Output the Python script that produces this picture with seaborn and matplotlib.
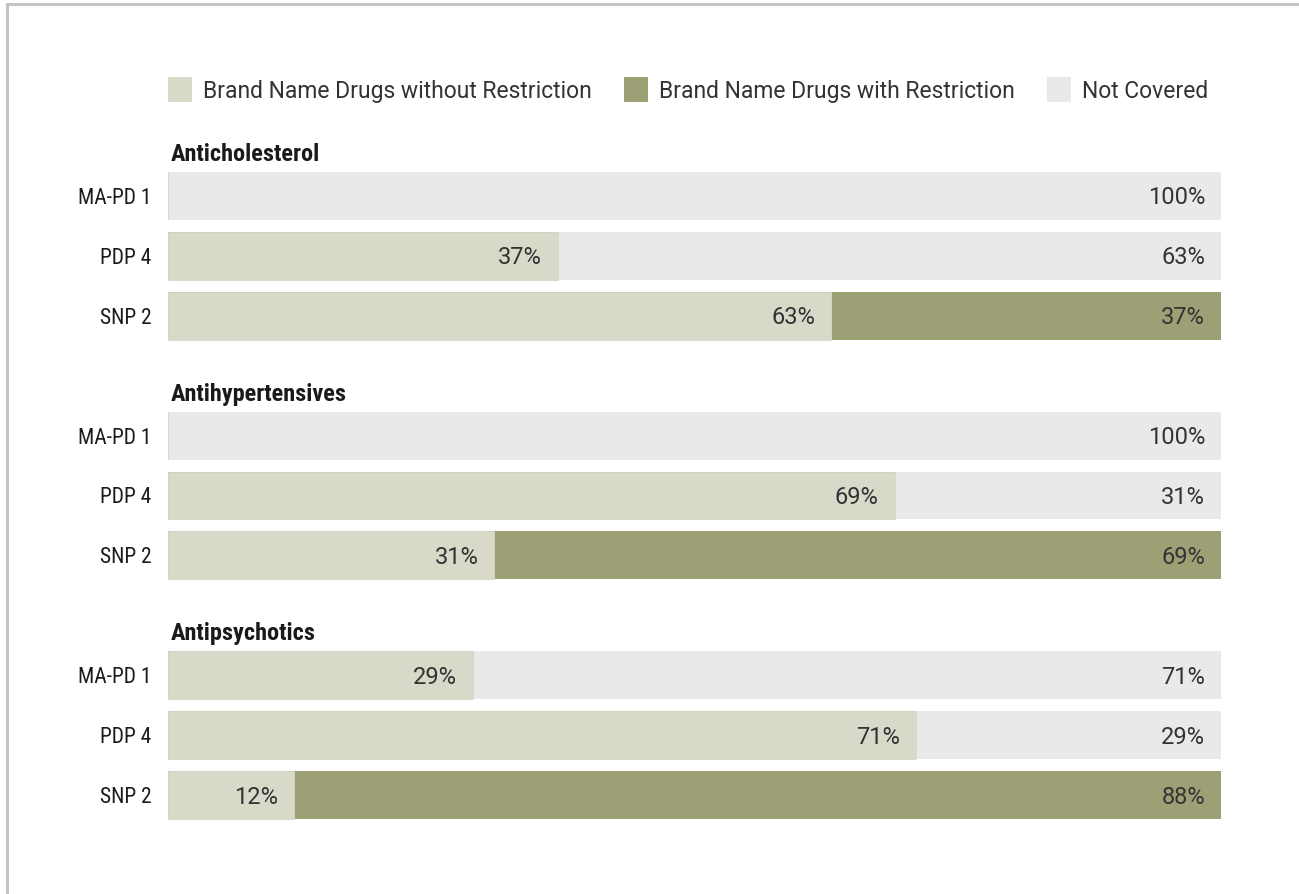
import matplotlib
matplotlib.use("Agg")
import matplotlib.pyplot as plt
from matplotlib.patches import Patch
from matplotlib.lines import Line2D
import seaborn as sns
import pandas as pd
import numpy as np

# ---- data ----
groups = ["Anticholesterol", "Antihypertensives", "Antipsychotics"]
plans = ["MA-PD 1", "PDP 4", "SNP 2"]
series_names = ["Brand Name Drugs without Restriction",
                "Brand Name Drugs with Restriction",
                "Not Covered"]
without_restriction = [0, 37, 63, 0, 69, 31, 29, 71, 12]
with_restriction = [0, 0, 37, 0, 0, 69, 0, 0, 88]
not_covered = [100, 63, 0, 100, 31, 0, 71, 29, 0]

colors = ["#D8D9C9", "#9DA075", "#E9E9E9"]

sns.set_theme(style="white")
plt.rcParams["font.family"] = ["Roboto", "DejaVu Sans"]

# row positions: 3 rows per group, 1 empty slot between groups for titles
positions = []
for g in range(len(groups)):
    for p in range(len(plans)):
        positions.append(g * 4 + p)

df = pd.DataFrame({
    "pos": positions,
    "plan": plans * len(groups),
    "w": without_restriction,
    "r": with_restriction,
    "n": not_covered,
})
df["cum1"] = df["w"]
df["cum2"] = df["w"] + df["r"]
df["cum3"] = df["w"] + df["r"] + df["n"]

W, H = 1299, 894
fig = plt.figure(figsize=(W / 100, H / 100), dpi=100)
ax_left, ax_right = 168 / W, 1221 / W
ax_top_px, ax_bot_px = 136, 825
ax = fig.add_axes([ax_left, (H - ax_bot_px) / H, ax_right - ax_left, (ax_bot_px - ax_top_px) / H])

# overlay stacked bars: draw totals first
sns.barplot(data=df, x="cum3", y="pos", orient="h", native_scale=True,
            color=colors[2], saturation=1, width=0.8, linewidth=0, ax=ax)
sns.barplot(data=df, x="cum2", y="pos", orient="h", native_scale=True,
            color=colors[1], saturation=1, width=0.8, linewidth=0, ax=ax)
sns.barplot(data=df, x="cum1", y="pos", orient="h", native_scale=True,
            color=colors[0], saturation=1, width=0.8, linewidth=0.6,
            edgecolor="#D6D7C6", ax=ax)

ax.set_xlim(0, 100)
ax.set_ylim(10.5, -1.0)

# value labels
txt_kw = dict(ha="right", va="center", fontsize=17, color="#333333",
              textcoords="offset pixels", xytext=(-16, -2))
for _, row in df.iterrows():
    for val, end in [(row["w"], row["cum1"]), (row["r"], row["cum2"]), (row["n"], row["cum3"])]:
        if val > 0:
            ax.annotate(f"{int(val)}%", xy=(end, row["pos"]), **txt_kw)

# group titles
cond = ["Liberation Sans Narrow", "Roboto Condensed", "DejaVu Sans"]
for g, title in enumerate(groups):
    ax.annotate(title, xy=(0, g * 4 - 0.69), xytext=(3, 0), textcoords="offset pixels",
                ha="left", va="center", fontsize=17.5, fontweight="bold",
                color="#1a1a1a", family=cond)

ax.set_yticks(positions)
ax.set_yticklabels(plans * len(groups), family=cond, fontsize=15.5, color="#1a1a1a")
ax.tick_params(axis="y", length=0, pad=12)
ax.set_xticks([])
ax.set_xlabel("")
ax.set_ylabel("")
for s in ax.spines.values():
    s.set_visible(False)

# legend
handles = [Patch(facecolor=c, edgecolor="none") for c in colors]
fig.legend(handles, series_names, loc="center left",
           bbox_to_anchor=(168 / W, 1 - 90 / H), ncol=3, frameon=False,
           fontsize=16.5, handlelength=1.05, handleheight=1.3, handletextpad=0.48,
           columnspacing=1.4, borderaxespad=0, borderpad=0,
           labelcolor="#333333")

# frame lines (top and left)
fig.add_artist(Line2D([7 / W, 1], [1 - 4 / H, 1 - 4 / H], color="#C4C4C4", lw=2.2,
                      transform=fig.transFigure))
fig.add_artist(Line2D([7 / W, 7 / W], [0, 1 - 4 / H], color="#C4C4C4", lw=2.2,
                      transform=fig.transFigure))

fig.savefig("out.png", dpi=100, facecolor="white")
